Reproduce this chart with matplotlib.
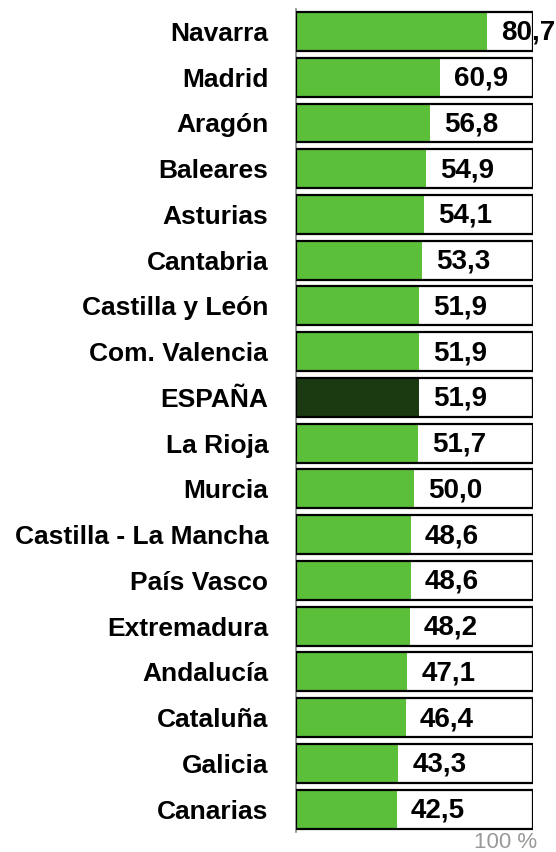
import matplotlib.pyplot as plt

plt.rcParams['font.family'] = ['Liberation Sans', 'DejaVu Sans']

regions = [
    "Navarra", "Madrid", "Aragón", "Baleares", "Asturias", "Cantabria",
    "Castilla y León", "Com. Valencia", "ESPAÑA", "La Rioja", "Murcia",
    "Castilla - La Mancha", "País Vasco", "Extremadura", "Andalucía",
    "Cataluña", "Galicia", "Canarias",
]
values = [80.7, 60.9, 56.8, 54.9, 54.1, 53.3, 51.9, 51.9, 51.9, 51.7,
          50.0, 48.6, 48.6, 48.2, 47.1, 46.4, 43.3, 42.5]
highlight = "ESPAÑA"
full_scale = 100

GREEN = "#5cbf3a"
DARK = "#1b3a11"

W, H = 556, 852
fig = plt.figure(figsize=(W / 100, H / 100), dpi=100)
ax = fig.add_axes([296 / W, 20 / H, (532.7 - 296) / W, (843.4 - 20) / H])

ypos = list(range(len(regions)))
colors = [DARK if r == highlight else GREEN for r in regions]

# white 100% frame behind each bar
ax.barh(ypos, [full_scale] * len(regions), height=0.85, color="white",
        edgecolor="none", zorder=1)
ax.barh(ypos, values, height=0.85, color=colors, edgecolor="none", zorder=2)
ax.barh(ypos, [full_scale] * len(regions), height=0.85, fill=False,
        edgecolor="black", linewidth=1.6, zorder=3)

for y, v in zip(ypos, values):
    ax.annotate(f"{v:.1f}".replace(".", ","), xy=(v, y), xytext=(10, -1),
                textcoords="offset points", ha="left", va="center",
                fontsize=20, fontweight="bold", color="black",
                annotation_clip=False, zorder=4)

ax.set_xlim(0, full_scale)
ax.set_ylim(len(regions) - 0.5, -0.5)
ax.set_yticks(ypos)
ax.set_yticklabels(regions, fontsize=19, fontweight="bold")
ax.tick_params(axis="y", length=0, pad=20)
ax.set_xticks([])

for side in ["top", "right", "bottom"]:
    ax.spines[side].set_visible(False)
ax.spines["left"].set_color("#888888")
ax.spines["left"].set_linewidth(1.2)

fig.text(537 / W, 1 - 843 / H, "100 %", ha="right", va="center",
         fontsize=16, color="#999999")

fig.savefig("out.png", dpi=100)
